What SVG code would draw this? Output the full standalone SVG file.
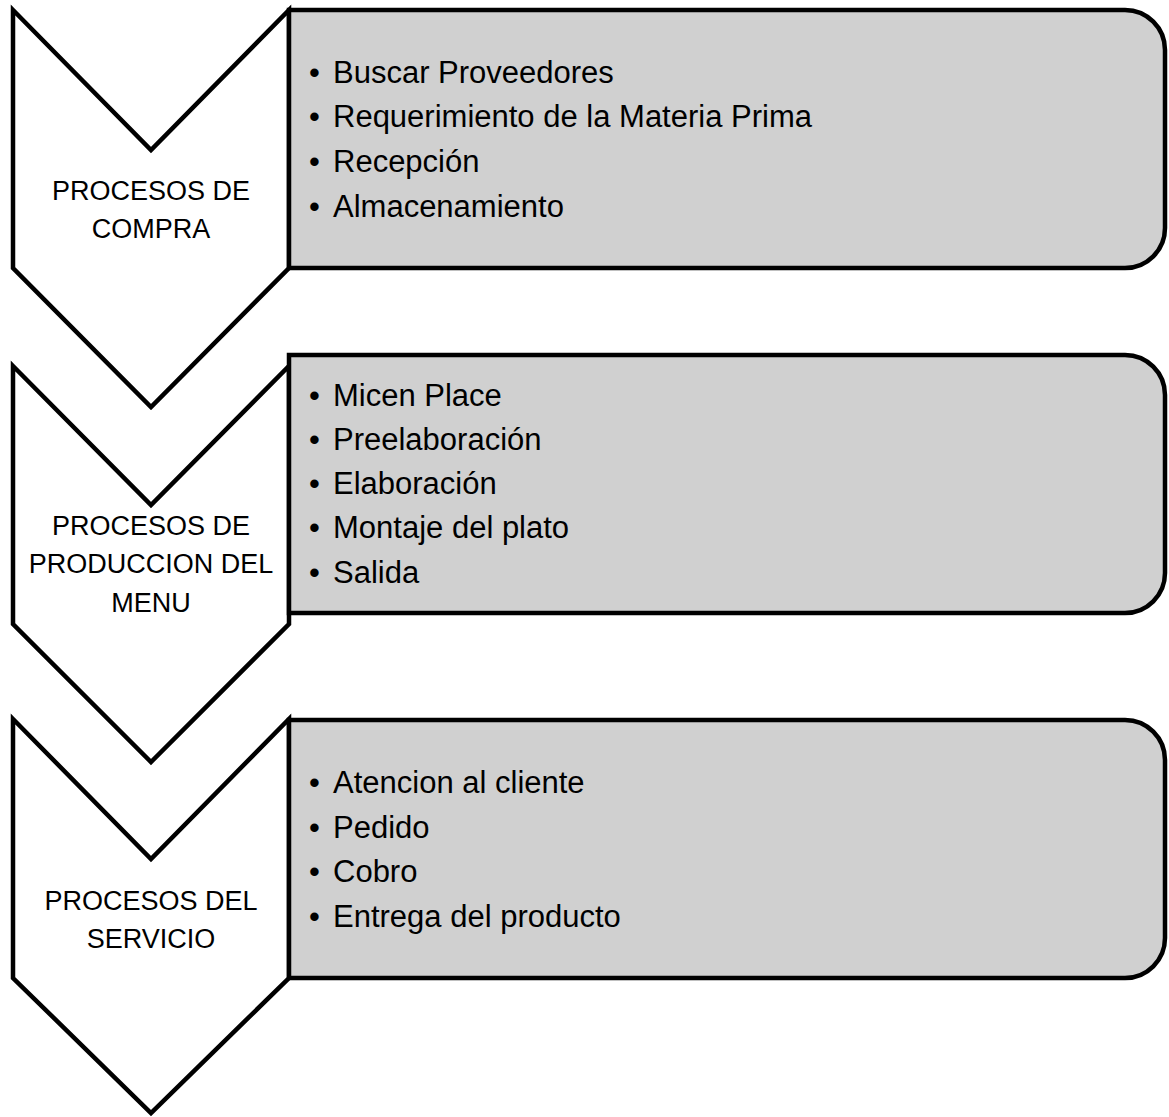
<svg xmlns="http://www.w3.org/2000/svg" width="1169" height="1117" viewBox="0 0 1169 1117">
<style>
.chev{fill:#ffffff;stroke:#000000;stroke-width:4.5;stroke-linejoin:miter}
.box{fill:#d0d0d0;stroke:#000000;stroke-width:4.5}
.lbl{font-family:"Liberation Sans",Arial,sans-serif;font-size:27px;fill:#000;text-anchor:middle}
.item{font-family:"Liberation Sans",Arial,sans-serif;font-size:31px;fill:#000}
</style>
<rect width="1169" height="1117" fill="#ffffff"/>
<g id="connectors"></g>
<g id="node-compra">
<polygon class="chev" points="13,10 151,150 289,10 289,268 151,407 13,268"/>
<path class="box" d="M289,10 H1125 A40,40 0 0 1 1165,50 V228 A40,40 0 0 1 1125,268 H289 Z"/>
<text class="lbl" x="151" y="200">PROCESOS DE</text>
<text class="lbl" x="151" y="238">COMPRA</text>
<text class="item" x="309" y="83">•</text><text class="item" x="333" y="83">Buscar Proveedores</text>
<text class="item" x="309" y="127">•</text><text class="item" x="333" y="127">Requerimiento de la Materia Prima</text>
<text class="item" x="309" y="172">•</text><text class="item" x="333" y="172">Recepción</text>
<text class="item" x="309" y="217">•</text><text class="item" x="333" y="217">Almacenamiento</text>
</g>
<g id="node-produccion">
<polygon class="chev" points="13,366 151,505 289,366 289,624 151,762 13,624"/>
<path class="box" d="M289,355 H1125 A40,40 0 0 1 1165,395 V573 A40,40 0 0 1 1125,613 H289 Z"/>
<text class="lbl" x="151" y="535">PROCESOS DE</text>
<text class="lbl" x="151" y="573">PRODUCCION DEL</text>
<text class="lbl" x="151" y="612">MENU</text>
<text class="item" x="309" y="406">•</text><text class="item" x="333" y="406">Micen Place</text>
<text class="item" x="309" y="450">•</text><text class="item" x="333" y="450">Preelaboración</text>
<text class="item" x="309" y="494">•</text><text class="item" x="333" y="494">Elaboración</text>
<text class="item" x="309" y="538">•</text><text class="item" x="333" y="538">Montaje del plato</text>
<text class="item" x="309" y="583">•</text><text class="item" x="333" y="583">Salida</text>
</g>
<g id="node-servicio">
<polygon class="chev" points="13,719 151,859 289,719 289,978 151,1113 13,978"/>
<path class="box" d="M289,720 H1125 A40,40 0 0 1 1165,760 V938 A40,40 0 0 1 1125,978 H289 Z"/>
<text class="lbl" x="151" y="910">PROCESOS DEL</text>
<text class="lbl" x="151" y="948">SERVICIO</text>
<text class="item" x="309" y="793">•</text><text class="item" x="333" y="793">Atencion al cliente</text>
<text class="item" x="309" y="838">•</text><text class="item" x="333" y="838">Pedido</text>
<text class="item" x="309" y="882">•</text><text class="item" x="333" y="882">Cobro</text>
<text class="item" x="309" y="927">•</text><text class="item" x="333" y="927">Entrega del producto</text>
</g>
</svg>
